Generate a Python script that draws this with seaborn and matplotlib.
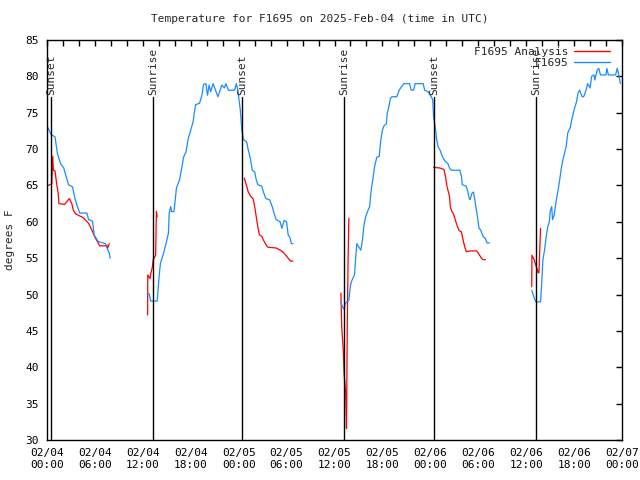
import numpy as np
import pandas as pd
import seaborn as sns
import matplotlib.pyplot as plt
import matplotlib.dates as mdates
from matplotlib.lines import Line2D

# Station / titles
STATION = "F1695"
TITLE = "Temperature for F1695 on 2025-Feb-04 (time in UTC)"
START = pd.Timestamp("2025-02-04 00:00")

# Observed temperature (blue), hours after 02/04 00:00, split where data is missing
obs_hours_1 = [0.0, 0.5, 1.0, 1.3, 1.7, 2.1, 2.4, 2.7, 3.2, 3.5, 3.8, 4.1, 5.0, 5.2,
               5.7, 5.9, 6.4, 7.3, 7.5, 7.8, 7.9]
obs_temps_1 = [73.2, 72.0, 71.7, 69.4, 68.0, 67.4, 66.2, 65.1, 64.8, 63.2, 62.1, 61.2,
               61.2, 60.3, 60.1, 58.2, 57.3, 57.0, 56.4, 55.7, 55.0]

obs_hours_2 = [12.55, 12.8, 12.98, 13.8, 14.0, 14.2, 14.6, 14.9, 15.2, 15.3, 15.5, 15.6,
               15.9, 16.1, 16.2, 16.6, 16.9, 17.1, 17.4, 17.7, 18.0, 18.3, 18.6, 19.1,
               19.4, 19.6, 19.9, 20.1, 20.3, 20.5, 20.8, 21.0, 21.4, 21.9, 22.2, 22.4,
               22.7, 23.5, 23.7, 23.9, 24.2, 24.4, 24.6, 25.0, 25.2, 25.5, 25.7, 26.0,
               26.2, 26.4, 26.9, 27.1, 27.4, 27.9, 28.2, 28.5, 28.7, 29.2, 29.4, 29.6,
               29.7, 30.0, 30.2, 30.4, 30.6, 30.8]
obs_temps_2 = [50.1, 50.1, 49.1, 49.1, 52.0, 54.3, 55.7, 57.0, 58.4, 61.2, 62.1, 61.4,
               61.4, 63.5, 64.6, 65.8, 67.6, 68.9, 69.6, 71.5, 72.6, 73.8, 76.1, 76.3,
               77.4, 78.9, 79.0, 77.4, 78.8, 77.9, 79.0, 78.4, 77.2, 78.8, 78.4, 79.0,
               78.1, 78.1, 79.0, 78.1, 75.4, 72.6, 71.3, 71.0, 69.9, 68.5, 67.1, 66.9,
               65.8, 65.1, 64.9, 64.1, 63.2, 63.0, 62.1, 60.9, 60.3, 60.0, 59.1, 59.8,
               60.2, 60.0, 58.2, 57.9, 57.0, 57.0]

obs_hours_3 = [36.8, 37.0, 37.2, 37.3, 37.5, 37.8, 38.0, 38.2, 38.5, 38.7, 38.8, 39.0,
               39.3, 39.5, 39.7, 39.9, 40.2, 40.4, 40.6, 40.8, 41.0, 41.3, 41.6, 41.8,
               42.0, 42.2, 42.5, 42.6, 42.8, 43.0, 43.2, 43.8, 44.1, 44.4, 44.7, 45.4,
               45.6, 45.9, 46.1, 47.1, 47.3, 47.7, 48.0, 48.3, 48.4, 48.6, 48.8, 49.0,
               49.2, 49.5, 49.8, 50.2, 50.4, 50.6, 51.7, 51.9, 52.0, 52.5, 52.7, 52.9,
               53.0, 53.2, 53.4, 53.5, 53.7, 53.9, 54.1, 54.3, 54.6, 54.9, 55.1, 55.4]
obs_temps_3 = [49.0, 48.3, 48.0, 48.6, 49.0, 49.2, 51.3, 52.0, 52.7, 55.7, 57.0, 56.6,
               56.1, 57.5, 59.6, 60.7, 61.6, 62.1, 64.4, 65.8, 67.5, 68.9, 69.0, 71.3,
               72.6, 73.2, 73.5, 74.9, 75.8, 77.0, 77.2, 77.2, 78.1, 78.6, 79.0, 79.0,
               78.1, 78.1, 79.0, 79.0, 78.1, 77.9, 77.4, 76.8, 74.5, 73.1, 71.3, 70.2,
               69.9, 69.0, 68.4, 68.0, 67.4, 67.1, 67.1, 66.2, 65.1, 64.9, 64.1, 63.1,
               63.1, 63.9, 64.1, 63.5, 62.1, 60.7, 59.1, 58.9, 58.0, 57.7, 57.1, 57.1]

obs_hours_4 = [60.7, 60.9, 61.2, 61.8, 61.9, 62.1, 62.3, 62.5, 62.7, 62.9, 63.0, 63.2,
               63.3, 63.5, 63.7, 64.0, 64.2, 64.4, 64.7, 65.0, 65.2, 65.5, 65.7, 66.0,
               66.3, 66.5, 66.7, 67.0, 67.2, 67.5, 67.7, 68.0, 68.2, 68.5, 68.6, 68.9,
               69.1, 69.3, 70.0, 70.1, 70.3, 71.2, 71.4, 71.6, 71.8]
obs_temps_4 = [50.6, 49.9, 49.0, 49.0, 50.6, 54.8, 56.1, 57.9, 59.3, 60.0, 61.4, 62.1,
               60.3, 60.9, 62.5, 64.4, 65.8, 67.4, 69.0, 70.3, 72.2, 72.9, 74.0, 75.4,
               76.5, 77.7, 78.1, 77.2, 77.2, 78.1, 79.0, 78.4, 80.0, 80.2, 79.5, 80.9,
               81.1, 80.2, 80.2, 81.1, 80.2, 80.2, 81.1, 80.2, 79.0]

# Analysis temperature (red)
ana_hours_1 = [0.1, 0.6, 0.7, 0.8, 1.0, 1.2, 1.4, 1.5, 2.2, 2.8, 3.1, 3.3, 3.6, 4.1,
               4.5, 5.2, 5.6, 6.0, 6.3, 6.6, 7.3, 7.5, 7.6, 7.8]
ana_temps_1 = [65.0, 65.2, 69.0, 67.1, 67.0, 65.3, 63.9, 62.5, 62.4, 63.2, 62.5, 61.6,
               61.1, 60.8, 60.6, 59.8, 58.9, 57.9, 57.3, 56.7, 56.7, 56.8, 56.4, 57.0]

ana_hours_2 = [12.6, 12.62, 12.9, 13.0, 13.2, 13.3, 13.5, 13.6, 13.7, 13.8]
ana_temps_2 = [47.2, 52.7, 52.2, 52.9, 53.8, 54.8, 55.2, 55.4, 61.4, 60.7]

ana_hours_3 = [24.7, 24.9, 25.2, 25.5, 25.8, 26.0, 26.2, 26.4, 26.6, 26.9, 27.1, 27.5,
               27.7, 28.7, 29.2, 29.6, 29.9, 30.2, 30.5, 30.8]
ana_temps_3 = [66.0, 65.3, 64.1, 63.5, 63.2, 62.1, 60.7, 59.3, 58.2, 58.0, 57.5, 56.7,
               56.5, 56.4, 56.1, 55.8, 55.4, 55.0, 54.6, 54.6]

ana_hours_4 = [36.8, 36.9, 37.1, 37.2, 37.4, 37.5, 37.6, 37.7, 37.8]
ana_temps_4 = [50.2, 45.6, 42.4, 39.2, 36.4, 31.6, 45.6, 54.8, 60.5]

ana_hours_5 = [48.4, 49.2, 49.7, 49.9, 50.1, 50.4, 50.5, 50.7, 50.9, 51.2, 51.4, 51.6,
               51.9, 52.1, 52.3, 52.5, 53.1, 53.8, 54.0, 54.4, 54.6, 54.9]
ana_temps_5 = [67.5, 67.4, 67.2, 66.2, 64.8, 63.5, 62.1, 61.4, 61.1, 60.0, 59.3, 58.8,
               58.6, 57.5, 56.6, 55.9, 56.0, 56.0, 55.7, 55.0, 54.8, 54.8]

ana_hours_6 = [60.7, 60.72, 61.0, 61.2, 61.4, 61.5, 61.6, 61.7, 61.8]
ana_temps_6 = [51.1, 55.4, 54.8, 54.1, 53.4, 53.0, 53.0, 56.1, 59.1]

# Sun events (hours after start)
sunset_hours = [0.5, 24.4, 48.5]
sunrise_hours = [13.3, 37.2, 61.2]

ANA_LABEL = "F1695 Analysis"
OBS_LABEL = "F1695"
COLORS = {ANA_LABEL: "#ff0000", OBS_LABEL: "#1a8cff"}

frames = []
seg = 0
for label, pairs in [
    (ANA_LABEL, [(ana_hours_1, ana_temps_1), (ana_hours_2, ana_temps_2),
                 (ana_hours_3, ana_temps_3), (ana_hours_4, ana_temps_4),
                 (ana_hours_5, ana_temps_5), (ana_hours_6, ana_temps_6)]),
    (OBS_LABEL, [(obs_hours_1, obs_temps_1), (obs_hours_2, obs_temps_2),
                 (obs_hours_3, obs_temps_3), (obs_hours_4, obs_temps_4)]),
]:
    for hrs, temps in pairs:
        frames.append(pd.DataFrame({
            "time": START + pd.to_timedelta(hrs, unit="h"),
            "temp": temps,
            "series": label,
            "seg": seg,
        }))
        seg += 1
df = pd.concat(frames, ignore_index=True)

sns.set_style("white")
plt.rcParams["font.family"] = ["DejaVu Sans Mono", "DejaVu Sans"]
plt.rcParams["font.size"] = 8

fig = plt.figure(figsize=(6.4, 4.8), dpi=100)
ax = fig.add_axes([47 / 640, 40 / 480, 575 / 640, 400 / 480])

sns.lineplot(data=df, x="time", y="temp", hue="series", units="seg",
             estimator=None, sort=False, palette=COLORS, linewidth=0.9,
             legend=False, ax=ax)

# Sunset / sunrise markers
for hrs, name in [(h, "Sunset") for h in sunset_hours] + [(h, "Sunrise") for h in sunrise_hours]:
    t = START + pd.Timedelta(hours=hrs)
    ax.plot([t, t], [30, 77.2], color="black", linewidth=1.0, zorder=5)
    ax.text(t, 77.4, name, rotation=90, ha="center", va="bottom", fontsize=8)

ax.set_xlim(START, START + pd.Timedelta(hours=72))
ax.set_ylim(30, 85)
ax.set_yticks(np.arange(30, 86, 5))
ax.xaxis.set_major_locator(mdates.HourLocator(byhour=[0, 6, 12, 18]))
ax.xaxis.set_major_formatter(mdates.DateFormatter("%m/%d\n%H:%M"))
ax.xaxis.set_minor_locator(mdates.HourLocator(byhour=range(0, 24, 2)))
ax.tick_params(which="both", direction="in", length=4, width=1, top=True,
               right=True, labelsize=8, pad=6, colors="black")
for sp in ax.spines.values():
    sp.set_color("black")
    sp.set_linewidth(1)

ax.set_xlabel("")
ax.set_ylabel("")
fig.text(10 / 640, 0.5, "degrees F", rotation=90, ha="center", va="center", fontsize=8)
fig.text(0.5, 1 - 19 / 480, TITLE, ha="center", va="center", fontsize=8)

handles = [Line2D([], [], color=COLORS[ANA_LABEL], linewidth=1.0),
           Line2D([], [], color=COLORS[OBS_LABEL], linewidth=1.0)]
leg = ax.legend(handles, [ANA_LABEL, OBS_LABEL], loc="upper right",
                frameon=False, markerfirst=False, handlelength=3.2,
                handletextpad=0.5, labelspacing=0.15, borderaxespad=0.2,
                fontsize=8, bbox_to_anchor=(0.99, 1.0))
for txt in leg.get_texts():
    txt.set_ha("right")

fig.savefig("out.png", dpi=100)
